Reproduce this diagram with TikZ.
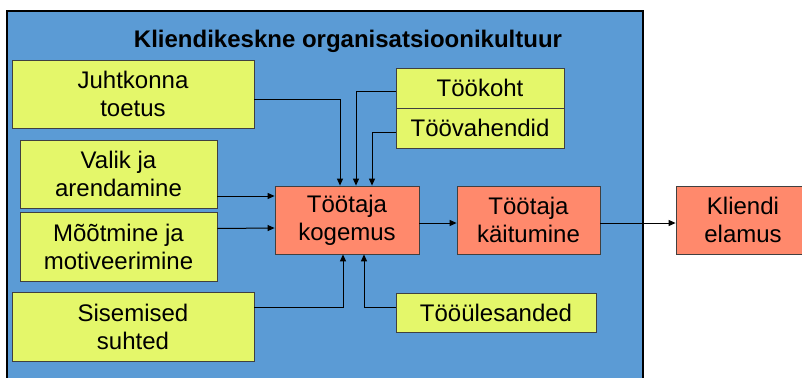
\documentclass[tikz,border=0pt]{standalone}
\usepackage{fontspec}
\setmainfont{Liberation Sans}
\usetikzlibrary{arrows.meta,calc}
\definecolor{frameblue}{RGB}{91,155,213}
\definecolor{boxyellow}{RGB}{228,247,106}
\definecolor{boxsalmon}{RGB}{255,137,108}
\tikzset{
  txt/.style={font=\fontsize{24}{28}\selectfont, align=center, inner sep=0pt},
  ybox/.style={txt, draw=black!75, line width=0.8pt, fill=boxyellow},
  sbox/.style={txt, draw=black!75, line width=0.8pt, fill=boxsalmon},
  conn/.style={draw=black, line width=1pt, -{Triangle[length=7pt,width=6pt]}},
}
\begin{document}
\begin{tikzpicture}[x=1pt,y=-1pt]
\useasboundingbox (0,0) rectangle (802,377);
\fill[white] (0,0) rectangle (802,377);
\draw[black, line width=2pt, fill=frameblue] (7,11) rectangle (643,390);
\node[txt, font=\fontsize{24}{28}\selectfont\bfseries] (title) at (348,41) {Kliendikeskne organisatsioonikultuur};

\node[ybox, minimum width=242, minimum height=68] (jt) at (133,94) {Juhtkonna\\toetus};
\node[ybox, minimum width=197, minimum height=68] (va) at (118.5,174) {Valik ja\\arendamine};
\node[ybox, minimum width=197, minimum height=69] (mm) at (118.5,246.5) {Mõõtmine ja\\motiveerimine};
\node[ybox, minimum width=242, minimum height=69] (ss) at (133,326.5) {Sisemised\\suhted};
\node[ybox, minimum width=168, minimum height=40] (tk) at (480,88) {Töökoht};
\node[ybox, minimum width=168, minimum height=40] (tv) at (480,128) {Töövahendid};
\node[ybox, minimum width=200, minimum height=39] (tu) at (496,312.5) {Tööülesanded};
\node[sbox, minimum width=144, minimum height=68] (kg) at (347,220) {Töötaja\\kogemus};
\node[sbox, minimum width=143, minimum height=68] (kt) at (528.5,220) {Töötaja\\käitumine};
\node[sbox, minimum width=134, minimum height=68] (ke) at (743,220) {Kliendi\\elamus};

\draw[conn] ($(jt.east)+(0,6)$) -| ($(kg.north)+(-7,0)$);
\draw[conn] ($(tk.west)+(0,4)$) -| ($(kg.north)+(9,0)$);
\draw[conn] ($(tv.west)+(0,4)$) -| ($(kg.north)+(25,0)$);
\draw[conn] ($(va.east)+(0,22)$) -- ($(kg.west)+(0,-24)$);
\draw[conn] ($(mm.east)+(0,-18)$) -- ($(kg.west)+(0,8)$);
\draw[conn] ($(ss.east)+(0,-19.5)$) -| ($(kg.south)+(-4,0)$);
\draw[conn] ($(tu.west)+(0,-5.5)$) -| ($(kg.south)+(17,0)$);
\draw[conn] ($(kg.east)+(0,3)$) -- ($(kt.west)+(0,3)$);
\draw[conn] ($(kt.east)+(0,3)$) -- ($(ke.west)+(0,3)$);
\end{tikzpicture}
\end{document}
